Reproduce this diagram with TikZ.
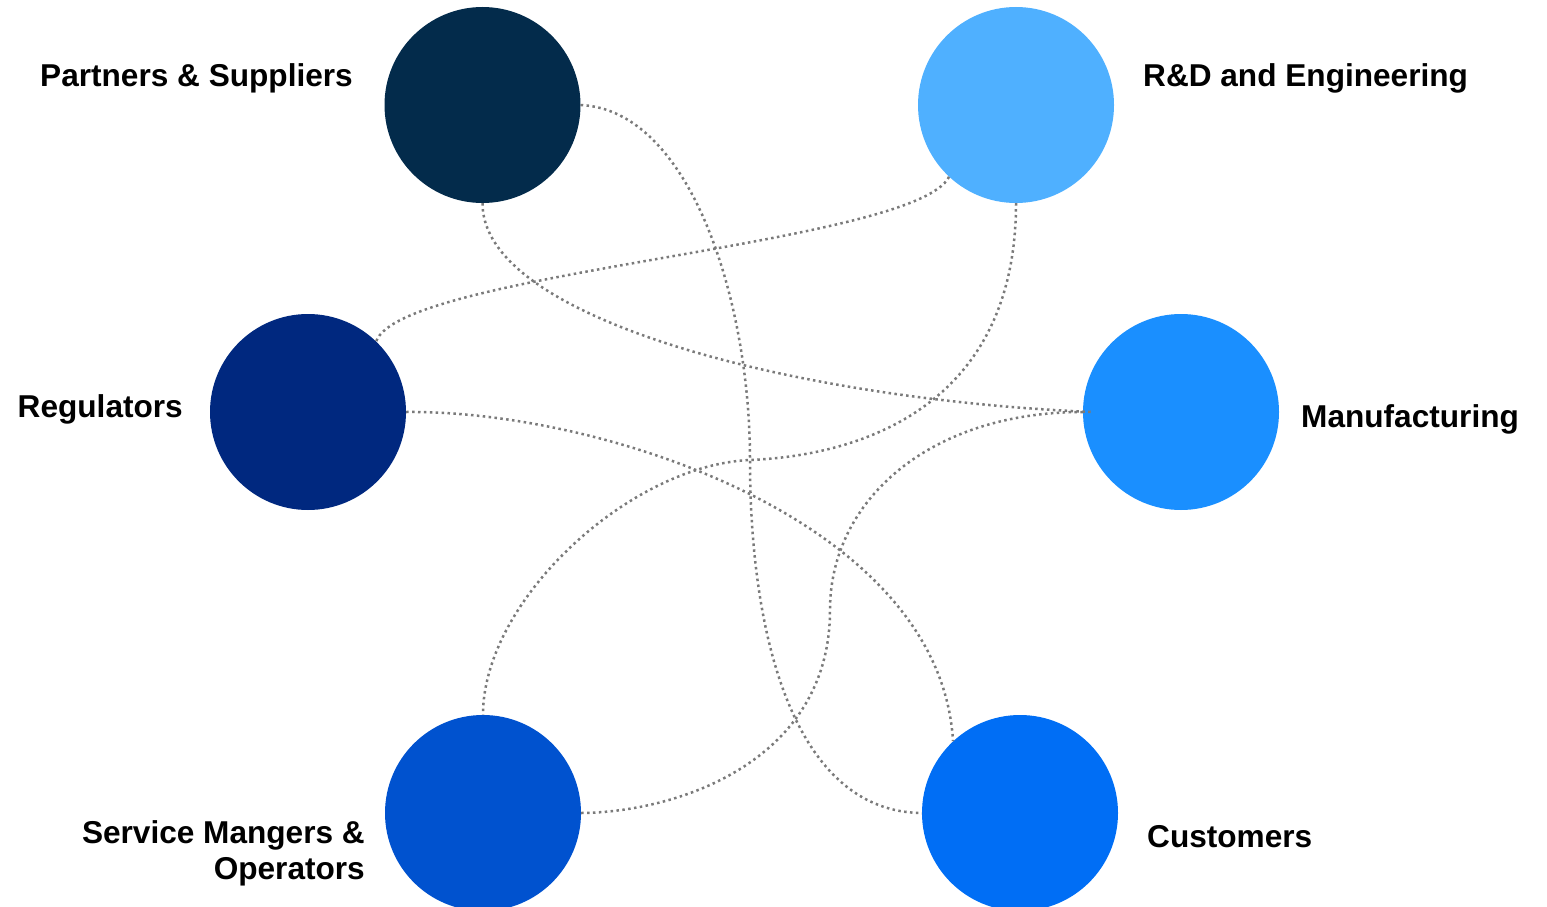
\documentclass[tikz,border=0pt]{standalone}
\usepackage{fontspec}
\setmainfont{Liberation Sans}
\definecolor{cPS}{HTML}{032B4B}
\definecolor{cRD}{HTML}{4FB0FF}
\definecolor{cRG}{HTML}{00287F}
\definecolor{cMF}{HTML}{1A8FFF}
\definecolor{cSV}{HTML}{0052CF}
\definecolor{cCU}{HTML}{006EF5}
\definecolor{cLine}{HTML}{7A7A7A}
\tikzset{
  hub/.style={circle, minimum size=196pt, inner sep=0pt, draw=none},
  lbl/.style={inner sep=0pt, font=\fontsize{31.6}{37}\selectfont\bfseries},
  link/.style={draw=cLine, line width=2.5pt, dash pattern=on 2.5pt off 3.4pt}
}
\begin{document}
\begin{tikzpicture}[x=1pt,y=-1pt]
\useasboundingbox (0,0) rectangle (1547,907);
\clip (0,0) rectangle (1547,907);
\node[hub, fill=cPS] (ps) at (482.5,105) {};
\node[hub, fill=cRD] (rd) at (1016,105) {};
\node[hub, fill=cRG] (rg) at (308,412) {};
\node[hub, fill=cMF] (mf) at (1181,412) {};
\node[hub, fill=cSV] (sv) at (483,813) {};
\node[hub, fill=cCU] (cu) at (1020,813) {};

\node[lbl, anchor=base east] (tps) at (353,86) {Partners \& Suppliers};
\node[lbl, anchor=base west] (trd) at (1143,86) {R\&D and Engineering};
\node[lbl, anchor=base east] (trg) at (183,417) {Regulators};
\node[lbl, anchor=base west] (tmf) at (1301,427) {Manufacturing};
\node[lbl, anchor=base east] (tsv1) at (365,843) {Service Mangers \&};
\node[lbl, anchor=base east] (tsv2) at (365,879) {Operators};
\node[lbl, anchor=base west] (tcu) at (1147,847) {Customers};

\coordinate (m1) at (750,460);
\coordinate (m4) at (750,460);
\coordinate (m6) at (830,610);

% Partners -> Customers
\draw[link] (ps.east) .. controls (690,110) and (750,300) .. (m1)
  .. controls (750,650) and (800,812) .. (cu.west);
% R&D -> Regulators
\draw[link] (rd.227) .. controls (915,245) and (400,272) .. (rg.46);
% Partners -> Manufacturing
\draw[link] (ps.south) .. controls (482,320) and (800,400) .. ([xshift=10pt]mf.west);
% R&D -> Service
\draw[link] (rd.south) .. controls (1016,400) and (870,455) .. (m4)
  .. controls (630,465) and (483,600) .. (sv.north);
% Regulators -> Customers
\draw[link] (rg.east) .. controls (600,410) and (940,520) .. (cu.133);
% Manufacturing -> Service
\draw[link] (mf.west) .. controls (930,412) and (830,500) .. (m6)
  .. controls (830,760) and (680,812) .. (sv.east);
\end{tikzpicture}
\end{document}
